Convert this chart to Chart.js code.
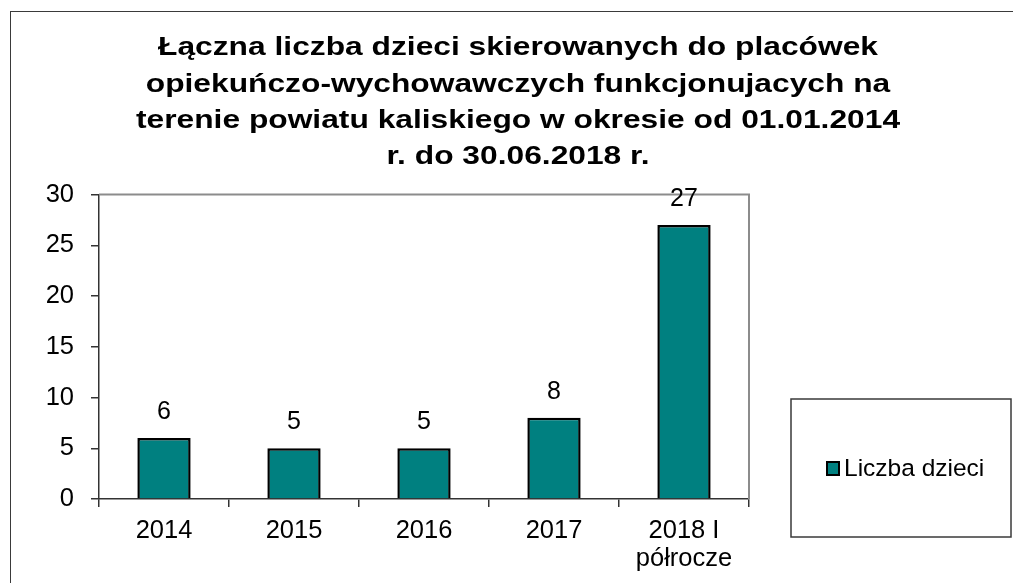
<!DOCTYPE html>
<html><head><meta charset="utf-8">
<script src="https://cdn.jsdelivr.net/npm/chart.js@4"></script>
<style>
html,body{margin:0;padding:0;background:#fff;overflow:hidden;width:1013px;height:583px;}
#frame{position:absolute;left:10px;top:11px;width:1100px;height:700px;border-top:1px solid #3a3a3a;border-left:1px solid #3a3a3a;}
#wrap{position:absolute;left:11px;top:12px;width:1014px;height:571px;}
</style></head><body>
<div id="frame"></div>
<div id="wrap"><canvas id="c" width="1014" height="571"></canvas></div>
<script>
const categories = ['2014', '2015', '2016', '2017', ['2018 I', 'półrocze']];
const values = [6, 5, 5, 8, 27];
const seriesName = 'Liczba dzieci';
const yMin = 0, yMax = 30, yStep = 5;
const titleLines = [
  'Łączna liczba dzieci skierowanych do placówek',
  'opiekuńczo-wychowawczych funkcjonujacych na',
  'terenie powiatu kaliskiego w okresie od 01.01.2014',
  'r. do 30.06.2018 r.'
];

const FONT = "'Liberation Sans', Arial, sans-serif";
const TEAL = '#008080';
const TITLE_SX = 1.27;

const stretchTitle = {
  id: 'stretchTitle',
  beforeDraw(chart) {
    const tb = chart.titleBlock;
    if (tb && !tb._wrapped) {
      const orig = tb.draw.bind(tb);
      tb.draw = function (...a) {
        const ctx = chart.ctx;
        const cx = (tb.left + tb.right) / 2;
        ctx.save();
        ctx.translate(cx, 0); ctx.scale(TITLE_SX, 1); ctx.translate(-cx, 0);
        orig(...a);
        ctx.restore();
      };
      tb._wrapped = true;
    }
  }
};

const plotFrame = {
  id: 'plotFrame',
  beforeDatasetsDraw(chart) {
    const a = chart.chartArea, ctx = chart.ctx;
    ctx.save();
    ctx.strokeStyle = '#8c8c8c'; ctx.lineWidth = 2;
    ctx.beginPath();
    ctx.moveTo(a.left, a.top); ctx.lineTo(a.right, a.top); ctx.lineTo(a.right, a.bottom);
    ctx.stroke();
    ctx.restore();
  }
};

const valueLabels = {
  id: 'valueLabels',
  afterDatasetsDraw(chart) {
    const ctx = chart.ctx;
    const ds = chart.data.datasets[0];
    const meta = chart.getDatasetMeta(0);
    ctx.save();
    ctx.font = '25px ' + FONT;
    ctx.fillStyle = '#000';
    ctx.textAlign = 'center'; ctx.textBaseline = 'middle';
    meta.data.forEach((bar, i) => ctx.fillText(String(ds.data[i]), bar.x, bar.y - 26));
    ctx.restore();
  }
};

const boxedLegend = {
  id: 'boxedLegend',
  afterDraw(chart) {
    const ctx = chart.ctx;
    const ds = chart.data.datasets[0];
    const ox = 11, oy = 12; // canvas offset on page
    ctx.save();
    ctx.strokeStyle = '#3a3a3a'; ctx.lineWidth = 1.5;
    ctx.strokeRect(791 - ox, 399 - oy, 220, 138);
    ctx.fillStyle = ds.backgroundColor;
    ctx.fillRect(826 - ox, 461 - oy, 14, 15);
    ctx.strokeStyle = '#000'; ctx.lineWidth = 2;
    ctx.strokeRect(827 - ox, 462 - oy, 12, 13);
    ctx.fillStyle = '#000';
    ctx.font = '24.5px ' + FONT;
    ctx.textAlign = 'left'; ctx.textBaseline = 'alphabetic';
    ctx.fillText(ds.label, 844 - ox, 476 - oy);
    ctx.restore();
  }
};

new Chart(document.getElementById('c'), {
  type: 'bar',
  data: {
    labels: categories,
    datasets: [{
      label: seriesName,
      data: values,
      backgroundColor: TEAL,
      borderColor: '#000',
      borderWidth: 2.5,
      categoryPercentage: 1,
      barPercentage: 0.41
    }]
  },
  options: {
    responsive: false,
    devicePixelRatio: 1,
    animation: false,
    layout: { padding: 0 },
    plugins: {
      legend: { display: false },
      tooltip: { enabled: false },
      title: {
        display: true,
        text: titleLines,
        color: '#000',
        font: { family: FONT, size: 25, weight: 'bold', lineHeight: 36.3 / 25 },
        padding: { top: 18.2, bottom: 19.1 }
      }
    },
    scales: {
      x: {
        grid: { display: true, drawOnChartArea: false, drawTicks: true, tickLength: 8, color: '#333', lineWidth: 1.5, offset: true },
        border: { display: true, color: '#333', width: 1.5 },
        ticks: { color: '#000', font: { family: FONT, size: 25.5, lineHeight: 1.12 }, padding: 9.5, maxRotation: 0, autoSkip: false },
        afterFit: s => { s.height = 84; }
      },
      y: {
        min: yMin, max: yMax,
        grid: { display: true, drawOnChartArea: false, drawTicks: true, tickLength: 8, color: '#333', lineWidth: 1.5 },
        border: { display: true, color: '#333', width: 1.5 },
        ticks: { stepSize: yStep, color: '#000', font: { family: FONT, size: 25.5 }, padding: 17 },
        afterFit: s => { s.width = 88; }
      },
      yRight: {
        position: 'right',
        display: true,
        grid: { display: false },
        border: { display: false },
        ticks: { display: false },
        afterFit: s => { s.width = 276; }
      }
    }
  },
  plugins: [stretchTitle, plotFrame, valueLabels, boxedLegend]
});
</script>
</body></html>
